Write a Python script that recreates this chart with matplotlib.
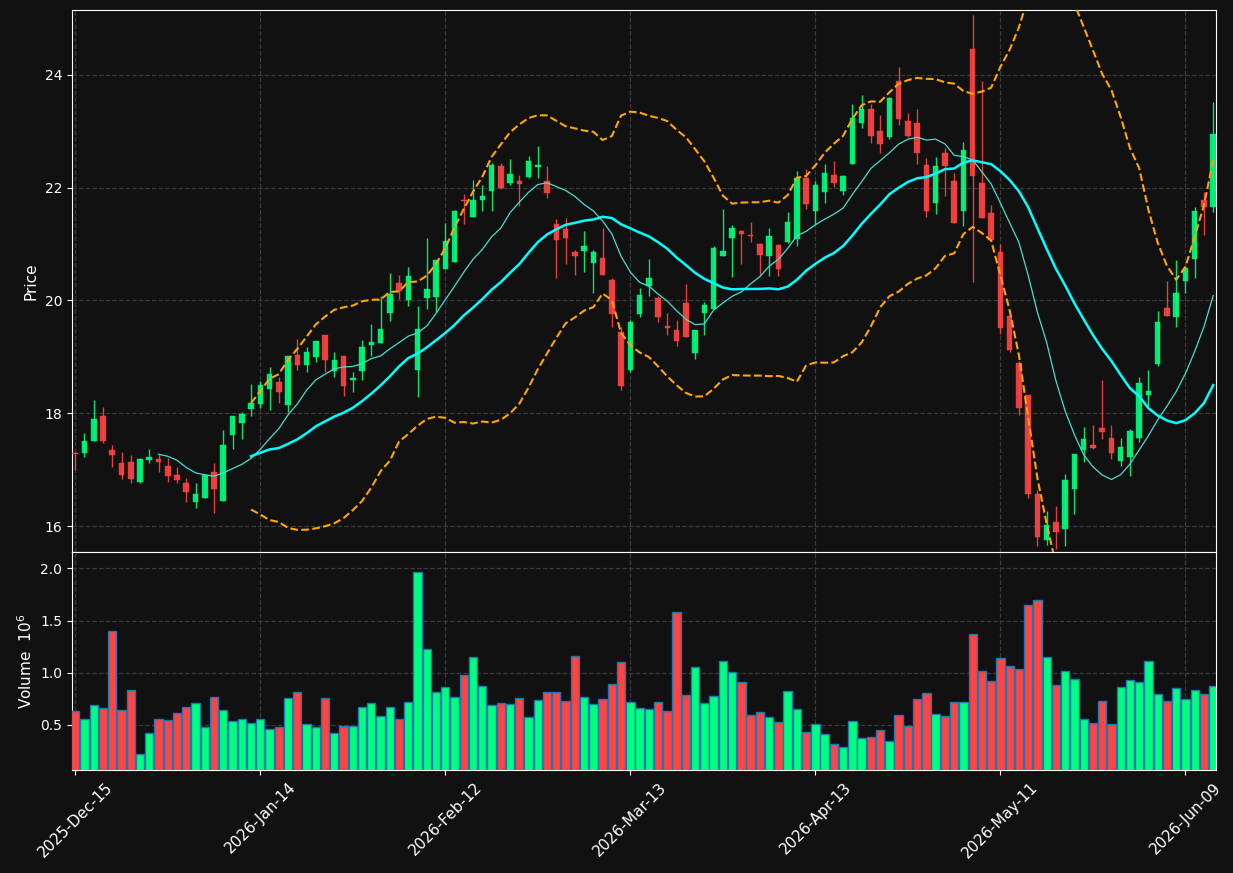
import numpy as np
import pandas as pd
import matplotlib
matplotlib.use("Agg")
import matplotlib.pyplot as plt

# daily OHLC (124 trading days)
opens = [
    17.29, 17.29, 17.51, 17.95, 17.35, 17.12, 17.14, 16.79, 17.17, 17.19,
    17.07, 16.91, 16.76, 16.43, 16.49, 16.96, 16.45, 17.62, 17.82, 18.07,
    18.16, 18.43, 18.56, 18.15, 19.04, 18.85, 18.99, 19.38, 18.75, 19.01,
    18.59, 18.75, 19.21, 19.25, 19.78, 20.31, 20.00, 18.76, 20.05, 20.06,
    20.55, 20.68, 21.79, 21.48, 21.78, 21.94, 22.38, 22.08, 22.11, 22.19,
    22.37, 22.12, 21.35, 21.27, 20.86, 20.88, 20.67, 20.75, 20.36, 19.44,
    18.77, 19.76, 20.25, 20.05, 19.55, 19.47, 19.95, 19.06, 19.78, 19.85,
    20.79, 21.11, 21.24, 21.16, 21.01, 20.78, 20.98, 21.04, 21.09, 22.18,
    21.59, 21.93, 22.23, 21.95, 22.42, 23.15, 23.39, 23.00, 22.89, 23.89,
    23.18, 23.14, 22.41, 21.73, 22.61, 22.11, 21.59, 24.46, 22.09, 21.55,
    20.86, 19.73, 18.90, 18.33, 16.56, 15.75, 16.08, 15.94, 16.65, 17.34,
    17.44, 17.73, 17.57, 17.16, 17.22, 17.56, 18.32, 18.87, 19.87, 19.70,
    20.34, 20.73, 21.78, 21.65,
]
highs = [
    17.32, 17.65, 18.24, 18.11, 17.43, 17.31, 17.26, 17.20, 17.36, 17.28,
    17.20, 17.04, 16.85, 16.76, 16.92, 17.11, 17.70, 17.95, 18.02, 18.52,
    18.57, 18.82, 18.64, 19.01, 19.32, 19.18, 19.28, 19.38, 19.09, 19.01,
    18.73, 19.30, 19.59, 20.08, 20.49, 20.46, 20.59, 19.91, 21.11, 20.72,
    21.38, 21.60, 21.88, 22.14, 22.05, 22.44, 22.44, 22.50, 22.23, 22.57,
    22.74, 22.39, 21.44, 21.47, 20.90, 21.24, 20.90, 21.29, 20.39, 19.53,
    19.65, 20.23, 20.74, 20.08, 19.77, 19.66, 20.30, 19.47, 19.98, 20.97,
    21.63, 21.33, 21.25, 21.40, 21.02, 21.28, 21.01, 21.56, 22.29, 22.34,
    22.11, 22.42, 22.47, 22.23, 23.48, 23.64, 23.48, 23.28, 23.60, 24.14,
    23.33, 23.39, 22.53, 22.55, 22.71, 22.26, 22.81, 25.06, 23.90, 21.69,
    21.00, 19.73, 18.93, 18.33, 16.64, 16.27, 16.35, 16.93, 17.27, 17.76,
    17.79, 18.59, 17.79, 17.56, 17.72, 18.65, 18.76, 19.81, 20.34, 20.71,
    20.58, 21.65, 21.92, 23.52,
]
lows = [
    16.99, 17.23, 17.51, 17.47, 17.04, 16.84, 16.76, 16.76, 17.11, 16.95,
    16.79, 16.76, 16.42, 16.32, 16.49, 16.24, 16.45, 17.36, 17.54, 17.96,
    18.10, 18.06, 18.18, 18.02, 18.77, 18.73, 18.91, 18.73, 18.64, 18.30,
    18.37, 18.59, 19.02, 19.25, 19.63, 20.02, 19.91, 18.28, 19.85, 19.79,
    20.55, 20.68, 21.36, 21.48, 21.58, 21.59, 21.98, 22.05, 21.68, 22.18,
    22.18, 21.82, 20.39, 20.64, 20.46, 20.51, 20.14, 20.45, 19.53, 18.41,
    18.73, 19.71, 20.08, 19.62, 19.38, 19.20, 19.36, 18.96, 19.38, 19.85,
    20.79, 20.42, 20.65, 21.04, 20.45, 20.44, 20.44, 21.02, 20.97, 21.63,
    21.36, 21.73, 22.02, 21.87, 22.42, 23.05, 22.80, 22.61, 22.86, 23.12,
    22.89, 22.42, 21.48, 21.54, 21.85, 21.37, 21.32, 20.32, 21.46, 21.05,
    19.41, 19.08, 17.97, 16.50, 15.64, 15.66, 15.60, 15.64, 16.21, 17.13,
    17.36, 17.54, 17.19, 17.07, 16.88, 17.49, 18.12, 18.83, 19.72, 19.53,
    20.14, 20.40, 21.16, 21.57,
]
closes = [
    17.27, 17.51, 17.90, 17.51, 17.26, 16.91, 16.84, 17.19, 17.23, 17.13,
    16.89, 16.81, 16.61, 16.57, 16.91, 16.65, 17.44, 17.95, 17.98, 18.18,
    18.51, 18.70, 18.38, 19.01, 18.85, 19.08, 19.28, 18.95, 18.95, 18.49,
    18.62, 19.18, 19.27, 19.49, 20.12, 20.17, 20.44, 19.50, 20.20, 20.72,
    21.05, 21.58, 21.76, 21.78, 21.85, 22.40, 22.00, 22.24, 22.06, 22.47,
    22.41, 21.91, 21.07, 21.11, 20.79, 20.97, 20.86, 20.45, 19.76, 18.49,
    19.62, 20.09, 20.40, 19.71, 19.52, 19.28, 19.36, 19.47, 19.92, 20.93,
    20.87, 21.28, 21.18, 21.14, 20.80, 21.14, 20.56, 21.40, 22.18, 21.71,
    22.04, 22.26, 22.08, 22.21, 23.23, 23.39, 22.92, 22.77, 23.59, 23.22,
    22.92, 22.61, 21.58, 22.38, 22.38, 21.38, 22.66, 22.20, 21.47, 21.08,
    19.52, 19.12, 18.09, 16.56, 15.81, 16.02, 15.89, 16.82, 17.27, 17.54,
    17.39, 17.66, 17.30, 17.41, 17.69, 18.54, 18.40, 19.62, 19.72, 20.13,
    20.58, 21.59, 21.65, 22.95,
]
# volume in millions
volumes = [
    0.635, 0.558, 0.692, 0.663, 1.404, 0.644, 0.837, 0.221, 0.423, 0.558,
    0.548, 0.615, 0.673, 0.712, 0.481, 0.769, 0.644, 0.538, 0.558, 0.519,
    0.558, 0.462, 0.481, 0.760, 0.817, 0.510, 0.481, 0.760, 0.423, 0.490,
    0.490, 0.673, 0.712, 0.587, 0.673, 0.558, 0.721, 1.962, 1.231, 0.817,
    0.865, 0.769, 0.981, 1.154, 0.875, 0.692, 0.712, 0.702, 0.760, 0.577,
    0.740, 0.817, 0.817, 0.731, 1.163, 0.769, 0.702, 0.750, 0.894, 1.106,
    0.721, 0.663, 0.654, 0.721, 0.635, 1.587, 0.788, 1.058, 0.712, 0.779,
    1.115, 1.010, 0.913, 0.596, 0.625, 0.577, 0.529, 0.827, 0.654, 0.433,
    0.510, 0.413, 0.317, 0.288, 0.538, 0.375, 0.385, 0.452, 0.346, 0.596,
    0.490, 0.750, 0.808, 0.606, 0.587, 0.721, 0.721, 1.375, 1.019, 0.923,
    1.144, 1.067, 1.038, 1.654, 1.702, 1.154, 0.885, 1.019, 0.942, 0.558,
    0.519, 0.731, 0.510, 0.865, 0.933, 0.913, 1.115, 0.798, 0.731, 0.856,
    0.750, 0.837, 0.798, 0.875,
]
tick_pos = [0, 20, 40, 60, 80, 100, 120]
tick_labels = ["2025-Dec-15", "2026-Jan-14", "2026-Feb-12", "2026-Mar-13",
               "2026-Apr-13", "2026-May-11", "2026-Jun-09"]

BG = "#111111"
UP = "#00ff7f"
DOWN = "#ff4444"
GRID = "#3a3a3a"

df = pd.DataFrame({"open": opens, "high": highs, "low": lows,
                   "close": closes, "volume": volumes})
x = np.arange(len(df))
up = df["close"] >= df["open"]
colors = np.where(up, UP, DOWN)

ma10 = df["close"].rolling(10).mean()
ma20 = df["close"].rolling(20).mean()
std20 = df["close"].rolling(20).std(ddof=0)
upper = ma20 + 2 * std20
lower = ma20 - 2 * std20

fig = plt.figure(figsize=(12.33, 8.73), dpi=100, facecolor=BG)
ax = fig.add_axes([0.0584, 0.3677, 0.9278, 0.6208])
axv = fig.add_axes([0.0584, 0.118, 0.9278, 0.2497], sharex=ax)

#Candles
ax.vlines(x, df["low"], df["high"], colors=colors, linewidth=1.0, alpha=0.9, zorder=2)
body_bot = np.minimum(df["open"], df["close"])
body_h = np.maximum((df["close"] - df["open"]).abs(), 0.02)
ax.bar(x, body_h, bottom=body_bot, width=0.6, color=colors, edgecolor=colors,
       linewidth=0.3, alpha=0.9, zorder=3)

#Averages and bands
ax.plot(x, ma10, color="#40e0d0", linewidth=0.9, zorder=4)
ax.plot(x, ma20, color="#00ffff", linewidth=1.8, zorder=4)
ax.plot(x, upper, color="#ffa500", linewidth=1.5, linestyle="--", zorder=4)
ax.plot(x, lower, color="#ffa500", linewidth=1.5, linestyle="--", zorder=4)

#Volume
axv.bar(x, df["volume"], width=0.9, color=colors, edgecolor="#1f77b4",
        linewidth=1.0, zorder=3)

for a in (ax, axv):
    a.set_facecolor(BG)
    a.grid(True, color=GRID, linestyle="--", linewidth=0.9)
    a.set_axisbelow(True)
    for s in a.spines.values():
        s.set_color("white")
    a.tick_params(colors="white", labelsize=10)

ax.set_xlim(-0.35, 123.3)
ax.set_ylim(15.54, 25.15)
ax.set_yticks([16, 18, 20, 22, 24])
ax.tick_params(labelbottom=False)
ax.set_ylabel("Price", color="white", fontsize=11)

axv.set_ylim(0.3 * min(volumes), 1.1 * max(volumes))
axv.set_yticks([0.5, 1.0, 1.5, 2.0])
axv.set_xticks(tick_pos)
axv.set_xticklabels(tick_labels, rotation=45, fontsize=11)
axv.set_ylabel("Volume  $10^6$", color="white", fontsize=11)

fig.savefig("out.png", dpi=100, facecolor=BG)
